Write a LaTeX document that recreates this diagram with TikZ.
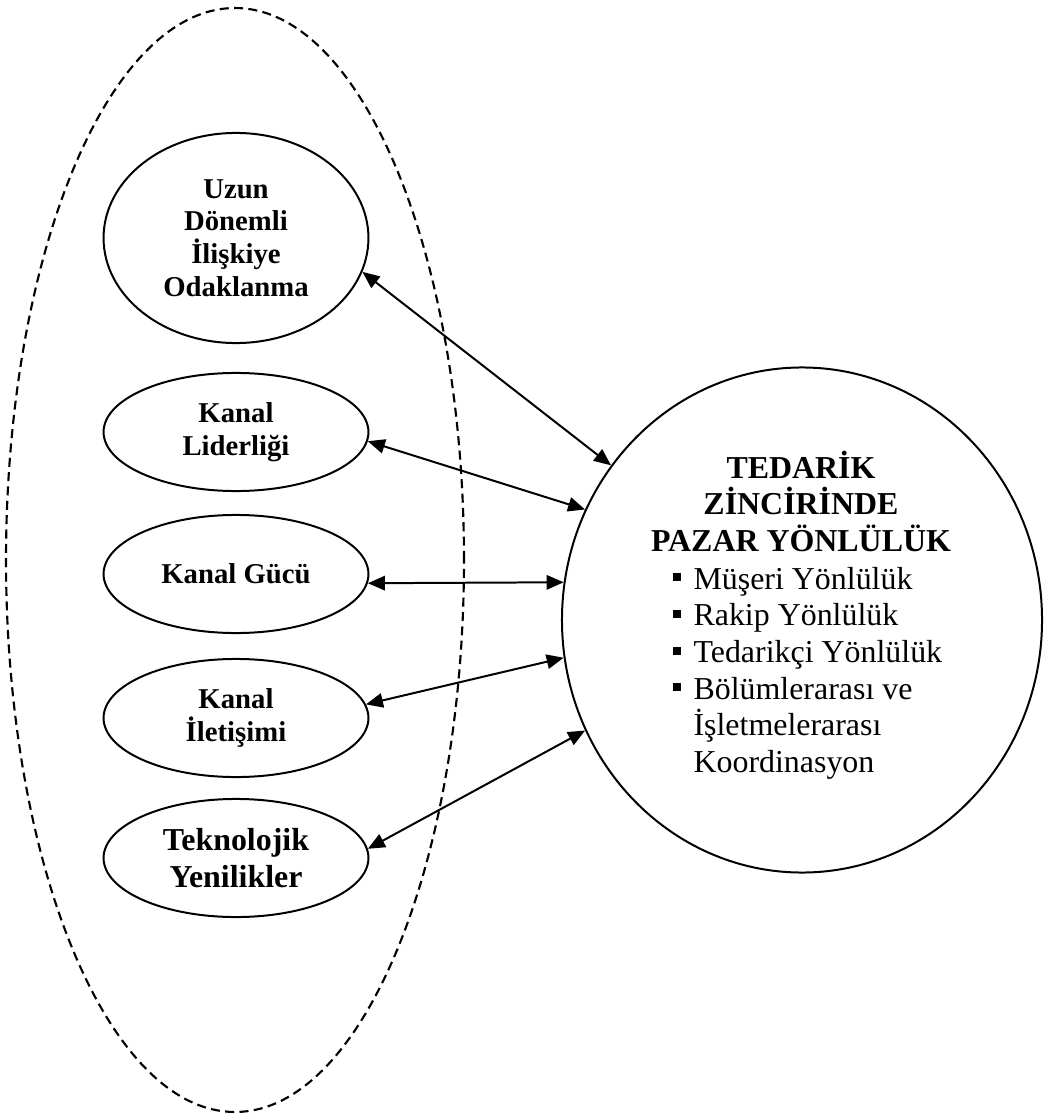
\documentclass[tikz,border=0pt]{standalone}
\usepackage{fontspec}
\setmainfont{Liberation Serif}
\usetikzlibrary{shapes.geometric,arrows.meta}
\newcommand{\madde}{\makebox[7.9pt][l]{\rule[2.9pt]{3pt}{3pt}}}
\tikzset{
  oval/.style={ellipse, draw, line width=0.75pt, minimum width=99.6pt, minimum height=44.4pt, inner sep=0pt, align=center, font=\fontsize{10.8}{12.3}\selectfont\bfseries},
  ok/.style={{Triangle[length=6.4pt,width=5.4pt]}-{Triangle[length=6.4pt,width=5.4pt]}, line width=0.75pt}
}
\begin{document}
\begin{tikzpicture}[x=0.376pt, y=-0.376pt]
  \useasboundingbox (0,0) rectangle (1051,1115);
  % dashed group around the left ovals
  \node[ellipse, draw, line width=0.8pt, dash pattern=on 3.4pt off 2pt, minimum width=172.2pt, minimum height=415.1pt, inner sep=0pt] (grup) at (235,560) {};
  \node[oval, minimum height=79pt] (uzun) at (236,238) {Uzun\\Dönemli\\İlişkiye\\Odaklanma};
  \node[oval] (lider) at (236,432) {Kanal\\Liderliği};
  \node[oval] (guc) at (236,574) {Kanal Gücü};
  \node[oval] (iletisim) at (236,718) {Kanal\\İletişimi};
  \node[oval, font=\fontsize{12}{13.8}\selectfont\bfseries] (teknoloji) at (236,858) {Teknolojik\\Yenilikler};
  \node[ellipse, draw, line width=0.75pt, minimum width=180.5pt, minimum height=189.9pt, inner sep=0pt] (pazar) at (802,620) {};
  \node[anchor=base, inner sep=0pt, font=\fontsize{12}{13.8}\selectfont\bfseries] (baslik) at (801,478)
    {\parbox[t]{130pt}{\centering TEDARİK\\ZİNCİRİNDE\\PAZAR YÖNLÜLÜK}};
  \node[anchor=base west, inner sep=0pt, font=\fontsize{12}{13.8}\selectfont] (liste) at (672,589)
    {\parbox[t]{110pt}{\madde Müşeri Yönlülük\\\madde Rakip Yönlülük\\\madde Tedarikçi Yönlülük\\\madde Bölümlerarası ve\\\hspace*{7.9pt}İşletmelerarası\\\hspace*{7.9pt}Koordinasyon}};
  \foreach \kaynak/\hedef in {uzun.-15.4/pazar.141.2, lider.-4/pazar.153.9, guc.-4.7/pazar.171.5, iletisim.6.4/pazar.-171.3, teknoloji.4.7/pazar.-153.3}
    \draw[ok] (\kaynak) -- (\hedef);
\end{tikzpicture}
\end{document}
